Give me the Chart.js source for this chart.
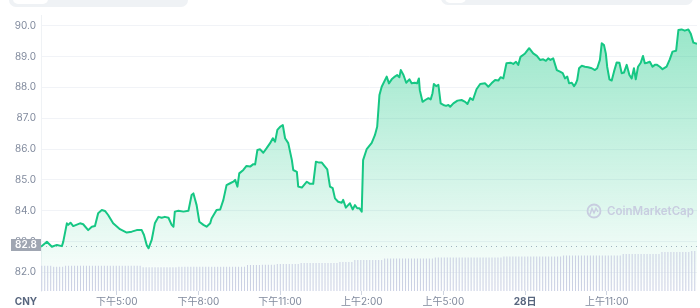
<!DOCTYPE html>
<html>
<head>
<meta charset="utf-8">
<script src="https://cdn.jsdelivr.net/npm/chart.js@4"></script>
<style>
html,body{margin:0;padding:0;background:#fff;width:700px;height:308px;overflow:hidden;}
#wrap{position:relative;width:700px;height:308px;}
#c{position:absolute;left:0;top:0;}
.btn{position:absolute;background:#eff2f5;border-radius:0 0 7px 7px;}
.inner{position:absolute;background:#fff;border-radius:0 0 5px 5px;}
</style>
</head>
<body>
<div id="wrap">
<canvas id="c" width="700" height="308"></canvas>
<div class="btn" style="left:9px;top:-6px;width:179px;height:13px;"></div>
<div class="inner" style="left:13px;top:-6px;width:35px;height:10px;"></div>
<div class="btn" style="left:441px;top:-6px;width:252px;height:11px;"></div>
<div class="inner" style="left:445px;top:-6px;width:21px;height:9px;"></div>
</div>
<script>
// ---- data ----
const times = [
'14:13','14:26','14:37','14:48','14:59','15:02','15:10','15:13','15:18','15:24',
'15:39','15:46','15:57','16:05','16:12','16:19','16:27','16:34','16:41','16:52',
'17:07','17:22','17:33','17:44','17:55','18:00','18:06','18:10','18:17','18:24',
'18:32','18:39','18:46','18:54','19:01','19:05','19:08','19:16','19:27','19:38',
'19:45','19:49','19:56','20:02','20:11','20:18','20:26','20:29','20:40','20:48',
'20:55','21:02','21:10','21:17','21:21','21:26','21:30','21:39','21:46','21:54',
'22:01','22:05','22:10','22:16','22:23','22:30','22:38','22:44','22:49','22:54',
'23:00','23:06','23:11','23:18','23:26','23:29','23:37','23:40','23:48','23:59',
'00:06','00:13','00:19','00:26','00:32','00:39','00:44','00:50','00:56','01:01',
'01:08','01:16','01:19','01:25','01:30','01:34','01:40','01:45','01:50','01:55',
'02:00','02:03','02:11','02:22','02:29','02:34','02:39','02:44','02:55','03:00',
'03:06','03:13','03:18','03:23','03:26','03:32','03:38','03:45','03:50','03:57',
'04:02','04:06','04:08','04:14','04:20','04:27','04:32','04:36','04:39','04:44',
'04:49','04:54','05:00','05:06','05:11','05:15','05:22','05:31','05:40','05:48',
'05:53','05:59','06:05','06:13','06:21','06:32','06:39','06:46','06:54','07:01',
'07:06','07:12','07:19','07:28','07:34','07:40','07:45','07:50','08:00','08:09',
'08:18','08:26','08:33','08:40','08:46','08:51','08:56','09:02','09:10','09:17',
'09:23','09:28','09:33','09:37','09:43','09:48','09:52','09:55','09:59','10:05',
'10:12','10:19','10:27','10:34','10:39','10:45','10:49','10:54','10:58','11:01',
'11:06','11:11','11:16','11:22','11:28','11:33','11:38','11:44','11:50','11:55',
'12:00','12:04','12:09','12:15','12:20','12:24','12:29','12:35','12:41','12:46',
'12:51','12:57','13:03','13:12','13:19','13:25','13:33','13:38','13:45','13:52',
'14:00','14:05','14:11','14:19'
];
const prices = [
82.83,82.99,82.83,82.89,82.85,82.99,83.59,83.54,83.61,83.50,
83.59,83.56,83.37,83.48,83.50,83.92,84.02,83.99,83.86,83.59,
83.40,83.29,83.32,83.37,83.37,83.21,82.89,82.78,83.05,83.59,
83.80,83.77,83.80,83.77,83.54,83.48,83.97,84.00,83.97,84.00,
84.51,84.56,84.18,83.64,83.54,83.48,83.59,83.75,84.02,84.04,
84.35,84.83,84.89,84.94,85.00,84.78,85.21,85.32,85.45,85.43,
85.51,85.50,85.97,85.99,85.88,86.02,86.19,86.35,86.24,86.62,
86.72,86.78,86.35,86.19,85.64,85.32,85.26,84.78,84.75,84.94,
84.87,84.87,85.59,85.56,85.56,85.43,85.34,84.78,84.73,84.40,
84.29,84.26,84.35,84.10,84.18,84.24,84.04,84.18,84.08,84.08,
83.97,85.64,86.00,86.20,86.45,86.72,87.75,88.02,88.35,88.13,
88.26,88.35,88.40,88.33,88.56,88.40,88.15,88.26,88.13,88.15,
88.13,88.29,87.91,87.53,87.59,87.65,87.61,87.81,88.11,88.04,
88.08,87.48,87.43,87.40,87.43,87.37,87.48,87.57,87.59,87.53,
87.46,87.65,87.59,87.94,88.11,88.13,88.02,88.13,88.24,88.22,
88.33,88.29,88.78,88.80,88.76,88.83,88.73,88.99,89.10,89.27,
89.10,89.02,88.89,88.91,88.86,88.94,88.89,88.94,88.56,88.51,
88.46,88.29,88.35,88.13,88.15,88.04,88.13,88.24,88.62,88.70,
88.67,88.65,88.62,88.56,88.62,88.89,89.43,89.37,89.10,88.67,
88.26,88.22,88.51,88.81,88.80,88.46,88.48,88.73,88.40,88.29,
88.62,88.26,88.67,88.80,89.02,88.78,88.80,88.83,88.67,88.73,
88.73,88.67,88.59,88.67,88.91,89.16,89.19,89.86,89.88,89.84,
89.88,89.75,89.45,89.41
];
const openPrice = 82.84;
const currency = 'CNY';
const yTicks = [82, 83, 84, 85, 86, 87, 88, 89, 90];
const xTickTimes = ['17:00','20:00','23:00','02:00','05:00','08:00','11:00'];
const xTickLabels = ['下午5:00','下午8:00','下午11:00','上午2:00','上午5:00','28日','上午11:00'];
// volume bars (relative units)
const volumes = [
25.3,25.3,25.3,25.3,
24.3,24.3,24.3,24.3,
25.3,25.3,25.3,25.3,25.3,25.3,25.3,25.3,25.3,25.3,25.3,25.3,25.3,25.3,25.3,25.3,25.3,25.3,25.3,25.3,25.3,25.3,25.3,25.3,25.3,25.3,
23.7,23.7,23.7,23.7,23.7,23.7,23.7,23.7,23.7,23.7,23.7,23.7,
24.3,24.3,24.3,24.3,24.3,24.3,24.3,24.3,24.3,24.3,24.3,24.3,24.3,24.3,24.3,24.3,24.3,24.3,24.3,24.3,24.3,24.3,24.3,
26,26,26,26,26,
26.3,26.3,26.3,26.3,26.3,
27,27,27,27,27,27,27,27,
28,28,28,28,28,28,28,28,28,28,28,28,28,
29,29,29,29,29,
31,31,31,31,31,31,31,31,31,31,
32.5,32.5,32.5,32.5,32.5,32.5,32.5,32.5,32.5,32.5,32.5,32.5,32.5,32.5,32.5,32.5,32.5,
33.5,33.5,33.5,33.5,33.5,33.5,33.5,33.5,33.5,33.5,33.5,33.5,33.5,33.5,33.5,33.5,33.5,33.5,33.5,33.5,33.5,33.5,33.5,
34.5,34.5,34.5,34.5,34.5,34.5,34.5,34.5,34.5,34.5,34.5,34.5,34.5,34.5,34.5,34.5,34.5,34.5,34.5,34.5,
35.5,35.5,35.5,35.5,35.5,35.5,35.5,35.5,35.5,35.5,35.5,35.5,35.5,35.5,35.5,35.5,35.5,35.5,35.5,35.5,
37,37,37,37,37,37,37,37,37,37,37,37,37,
39,39,39,39,39,39,39,39,39,39,
40,40
];

// ---- helpers ----
function toMinutes(list) {
  let day = 0, prev = -1;
  return list.map(t => {
    const [h, m] = t.split(':').map(Number);
    let v = h * 60 + m + day * 1440;
    if (v < prev) { day++; v += 1440; }
    prev = v;
    return v;
  });
}
const mins = toMinutes(times);
// tick times follow the start of the series
const xTickVals = toMinutes([times[0]].concat(xTickTimes)).slice(1);
const points = mins.map((m, i) => ({ x: m, y: prices[i] }));

const Y_MIN = 81.395, Y_MAX = 90.347;
const FONT = 'Inter, "Noto Sans CJK SC", sans-serif';

const overlay = {
  id: 'overlay',
  beforeDatasetsDraw(chart) {
    const { ctx, chartArea, scales } = chart;
    const y = Math.round(scales.y.getPixelForValue(openPrice)) + 0.5;
    ctx.save();
    ctx.strokeStyle = '#a9b1c2';
    ctx.lineWidth = 1;
    ctx.setLineDash([1, 4]);
    ctx.beginPath();
    ctx.moveTo(chartArea.left, y);
    ctx.lineTo(chartArea.right, y);
    ctx.stroke();
    ctx.restore();
  },
  afterDatasetsDraw(chart) {
    const { ctx, chartArea, scales } = chart;
    const y = scales.y.getPixelForValue(openPrice);
    ctx.save();
    // open price badge
    ctx.fillStyle = '#a0a6b2';
    ctx.fillRect(11, Math.round(y) - 7, 30, 12);
    ctx.fillStyle = '#ffffff';
    ctx.font = '600 10px ' + FONT;
    ctx.textAlign = 'center';
    ctx.textBaseline = 'middle';
    ctx.fillText(openPrice.toFixed(1), 26, Math.round(y) - 1);
    // currency label
    ctx.fillStyle = '#58667e';
    ctx.font = '700 10px ' + FONT;
    ctx.fillText(currency, 26, 302);
    // watermark
    ctx.strokeStyle = '#c8cde0';
    ctx.fillStyle = '#c8cde0';
    ctx.lineWidth = 1.8;
    ctx.beginPath();
    ctx.arc(594, 211, 6.5, 0, Math.PI * 2);
    ctx.stroke();
    ctx.lineWidth = 1.5;
    ctx.beginPath();
    ctx.moveTo(590, 214.5);
    ctx.lineTo(592, 208.5);
    ctx.lineTo(594, 213);
    ctx.lineTo(596, 208.5);
    ctx.lineTo(598, 212);
    ctx.stroke();
    ctx.font = '600 11.5px ' + FONT;
    ctx.textAlign = 'left';
    ctx.fillText('CoinMarketCap', 607, 212);
    ctx.restore();
  }
};

new Chart(document.getElementById('c'), {
  type: 'line',
  data: {
    labels: volumes.map((_, i) => i),
    datasets: [
      {
        type: 'bar',
        data: volumes,
        xAxisID: 'x2',
        yAxisID: 'yVol',
        backgroundColor: '#cbd1e4',
        barPercentage: 0.7,
        categoryPercentage: 1,
        order: 0
      },
      {
        type: 'line',
        data: points,
        xAxisID: 'x',
        yAxisID: 'y',
        borderColor: '#16c784',
        borderWidth: 2,
        borderJoinStyle: 'round',
        pointRadius: 0,
        tension: 0,
        fill: 'start',
        backgroundColor: (context) => {
          const { ctx, chartArea } = context.chart;
          if (!chartArea) return 'rgba(22,199,132,0.2)';
          const g = ctx.createLinearGradient(0, chartArea.top, 0, chartArea.bottom);
          g.addColorStop(0, 'rgba(22,199,132,0.46)');
          g.addColorStop(1, 'rgba(22,199,132,0.0)');
          return g;
        },
        order: 1
      }
    ]
  },
  options: {
    responsive: false,
    animation: false,
    devicePixelRatio: 1,
    layout: { padding: { left: 0, right: 3, top: 15, bottom: 0 } },
    plugins: { legend: { display: false }, tooltip: { enabled: false } },
    scales: {
      x: {
        type: 'linear',
        position: 'bottom',
        min: mins[0],
        max: mins[mins.length - 1],
        afterBuildTicks: (s) => { s.ticks = xTickVals.map(v => ({ value: v })); },
        afterFit: (s) => { s.height = 17; },
        ticks: {
          autoSkip: false,
          maxRotation: 0,
          padding: 1,
          color: (c) => c.index === 5 ? '#58667e' : '#808a9d',
          font: (c) => ({ family: FONT, size: 10, weight: c.index === 5 ? '700' : '400' }),
          callback: (v, i) => xTickLabels[i]
        },
        grid: { drawOnChartArea: false, drawTicks: true, tickLength: 4, color: '#cfd5e1' },
        border: { display: false }
      },
      x2: { type: 'category', display: false, offset: true },
      y: {
        type: 'linear',
        position: 'left',
        min: Y_MIN,
        max: Y_MAX,
        afterBuildTicks: (s) => { s.ticks = yTicks.map(v => ({ value: v })); },
        afterFit: (s) => { s.width = 41; },
        ticks: {
          padding: 5,
          color: '#808a9d',
          font: { family: FONT, size: 10 },
          callback: (v) => Number(v).toFixed(1)
        },
        grid: { color: '#f1f3f7', drawTicks: false },
        border: { display: true, color: '#eff2f5' }
      },
      yVol: { display: false, min: 0, max: 276 }
    }
  },
  plugins: [overlay]
});
</script>
</body>
</html>
